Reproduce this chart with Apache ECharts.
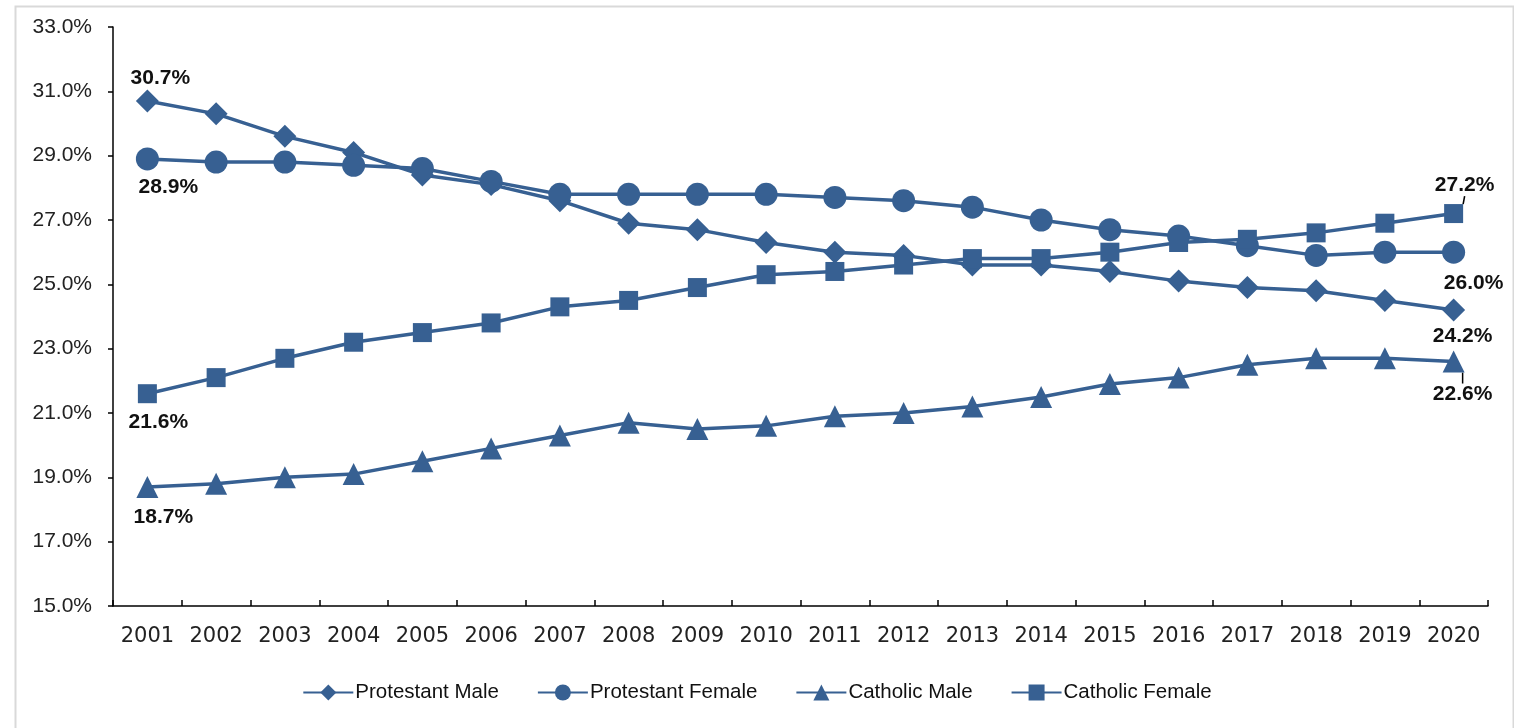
<!DOCTYPE html>
<html>
<head>
<meta charset="utf-8">
<script src="https://cdn.jsdelivr.net/npm/echarts@6/dist/echarts.min.js"></script>
<style>html,body{margin:0;padding:0;background:#fff;}#c{width:1514px;height:728px;}</style>
</head>
<body>
<div id="c"></div>
<script>
var years = ['2001','2002','2003','2004','2005','2006','2007','2008','2009','2010','2011','2012','2013','2014','2015','2016','2017','2018','2019','2020'];
var protestantMale = [30.7,30.3,29.6,29.1,28.4,28.1,27.6,26.9,26.7,26.3,26.0,25.9,25.6,25.6,25.4,25.1,24.9,24.8,24.5,24.2];
var protestantFemale = [28.9,28.8,28.8,28.7,28.6,28.2,27.8,27.8,27.8,27.8,27.7,27.6,27.4,27.0,26.7,26.5,26.2,25.9,26.0,26.0];
var catholicMale = [18.7,18.8,19.0,19.1,19.5,19.9,20.3,20.7,20.5,20.6,20.9,21.0,21.2,21.5,21.9,22.1,22.5,22.7,22.7,22.6];
var catholicFemale = [21.6,22.1,22.7,23.2,23.5,23.8,24.3,24.5,24.9,25.3,25.4,25.6,25.8,25.8,26.0,26.3,26.4,26.6,26.9,27.2];
var yTicks = {min: 15, max: 33, interval: 2};

var COLOR = '#376092';
var FONT = 'Liberation Sans, Arial, sans-serif';
var labelStyle = {show: true, color: '#111', fontWeight: 'bold', fontSize: 21, fontFamily: FONT,
  formatter: function (p) { return p.value.toFixed(1) + '%'; }};

var last = years.length - 1;

function withLabels(values, labels) {
  return values.map(function (v, i) {
    if (labels[i]) {
      var item = {value: v, label: Object.assign({}, labelStyle, labels[i].label)};
      if (labels[i].line) item.labelLine = {show: true, lineStyle: {color: '#000', width: 1.5}};
      return item;
    }
    return v;
  });
}

var pmLabels = {}; pmLabels[0] = {label: {position: 'top', offset: [13, 4]}}; pmLabels[last] = {label: {position: 'bottom', offset: [9, -1]}};
var pfLabels = {}; pfLabels[0] = {label: {position: 'bottom', offset: [21, 1]}}; pfLabels[last] = {label: {position: 'bottom', offset: [20, 4]}};
var cmLabels = {}; cmLabels[0] = {label: {position: 'bottom', offset: [16, 4]}}; cmLabels[last] = {label: {position: 'bottom'}, line: true};
var cfLabels = {}; cfLabels[0] = {label: {position: 'bottom', offset: [11, 4]}}; cfLabels[last] = {label: {position: 'top'}, line: true};

function mkSeries(name, values, labels, symbol, size, layout) {
  var s = {
    name: name, type: 'line', data: withLabels(values, labels),
    symbol: symbol, symbolSize: size,
    lineStyle: {color: COLOR, width: 3.5},
    itemStyle: {color: COLOR},
    emphasis: {disabled: true},
    labelLine: {show: false},
    animation: false
  };
  if (layout) s.labelLayout = layout;
  return s;
}

var chart = echarts.init(document.getElementById('c'));
chart.setOption({
  backgroundColor: '#fff',
  graphic: [{type: 'rect', left: 13, top: 4, shape: {width: 1498, height: 740}, style: {fill: 'none', stroke: '#d9d9d9', lineWidth: 2}, silent: true}],
  grid: {left: 113, right: 26, top: 27, bottom: 122, containLabel: false},
  legend: {
    bottom: 20, left: 'center', itemWidth: 50, itemHeight: 20, itemGap: 38,
    textStyle: {fontSize: 20.5, color: '#111', fontFamily: FONT, padding: [0, 0, 0, -3]},
    data: ['Protestant Male','Protestant Female','Catholic Male','Catholic Female']
  },
  xAxis: {
    type: 'category', data: years, boundaryGap: true,
    axisLine: {lineStyle: {color: '#000', width: 1.5}},
    axisTick: {show: true, inside: true, length: 6, interval: 0, lineStyle: {color: '#000', width: 1.5}},
    axisLabel: {interval: 0, fontSize: 21, color: '#222', margin: 20, fontFamily: 'DejaVu Sans, sans-serif'}
  },
  yAxis: {
    type: 'value', min: yTicks.min, max: yTicks.max, interval: yTicks.interval,
    splitLine: {show: false},
    axisLine: {show: true, lineStyle: {color: '#000', width: 1.5}},
    axisTick: {show: true, length: 5, lineStyle: {color: '#000', width: 1.5}},
    axisLabel: {fontSize: 21, color: '#222', margin: 21, fontFamily: FONT,
      formatter: function (v) { return v.toFixed(1) + '%'; }}
  },
  series: [
    mkSeries('Protestant Male', protestantMale, pmLabels, 'diamond', 23),
    mkSeries('Protestant Female', protestantFemale, pfLabels, 'circle', 23),
    mkSeries('Catholic Male', catholicMale, cmLabels, 'triangle', 22, function (p) {
      if (p.dataIndex === 0) return {dx: 16, dy: 4};
      if (p.dataIndex === last) return {dx: 9, dy: 6};
      return {};
    }),
    mkSeries('Catholic Female', catholicFemale, cfLabels, 'rect', 19, function (p) {
      if (p.dataIndex === 0) return {dx: 11, dy: 4};
      if (p.dataIndex === last) return {dx: 11, dy: -3};
      return {};
    })
  ]
});
</script>
</body>
</html>
